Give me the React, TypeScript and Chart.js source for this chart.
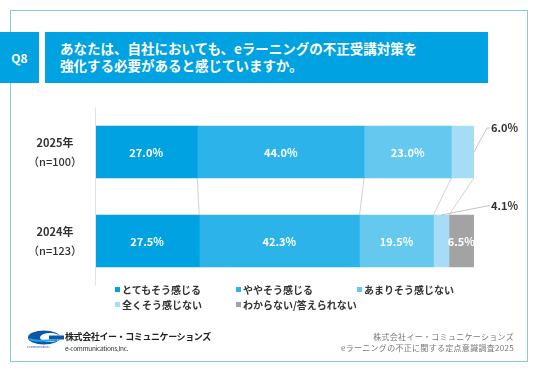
import React, { useEffect, useRef } from "react";
import { Chart, registerables } from "chart.js";

Chart.register(...registerables);

const categories = ["2025年", "2024年"];
const sampleSizes = ["（n=100）", "（n=123）"];
const seriesNames = ["とてもそう感じる", "ややそう感じる", "あまりそう感じない", "全くそう感じない", "わからない/答えられない"];
const veryMuch = [27.0, 27.5];
const somewhat = [44.0, 42.3];
const notMuch = [23.0, 19.5];
const notAtAll = [6.0, 4.1];
const dontKnow = [0, 6.5];
const seriesColors = ["#00a2e2", "#2cb4ea", "#64c8ef", "#a6dcf5", "#a3a3a3"];
// labels drawn outside with leader lines: [series index, category index]
const outsideLabels: [number, number][] = [[3, 0], [3, 1]];

const FONT = "'Noto Sans CJK JP', 'Noto Sans', sans-serif";

const overlayPlugin = {
  id: "overlay",
  afterDatasetsDraw(chart: any) {
    const ctx = chart.ctx;
    const area = chart.chartArea;
    const yScale = chart.scales.y;
    ctx.save();
    // y axis line
    ctx.strokeStyle = "#e2e2e2";
    ctx.lineWidth = 1;
    ctx.beginPath();
    ctx.moveTo(area.left + 0.5, area.top);
    ctx.lineTo(area.left + 0.5, area.bottom);
    ctx.stroke();

    const metas = chart.data.datasets.map((_: any, i: number) => chart.getDatasetMeta(i));
    // connector lines between bars
    ctx.strokeStyle = "#c8c8c8";
    ctx.lineWidth = 0.8;
    for (let s = 0; s < 4; s++) {
      const a = metas[s].data[0];
      const b = metas[s].data[1];
      ctx.beginPath();
      ctx.moveTo(a.x, a.y + a.height / 2);
      ctx.lineTo(b.x, b.y - b.height / 2);
      ctx.stroke();
    }
    // inside labels
    ctx.fillStyle = "#ffffff";
    ctx.font = `bold 11px ${FONT}`;
    ctx.textAlign = "center";
    ctx.textBaseline = "middle";
    chart.data.datasets.forEach((ds: any, s: number) => {
      ds.data.forEach((v: number, c: number) => {
        if (!v) return;
        if (outsideLabels.some(([os, oc]) => os === s && oc === c)) return;
        const el = metas[s].data[c];
        const cx = (el.base + el.x) / 2;
        ctx.fillText(v.toFixed(1) + "%", cx, el.y + 1);
      });
    });
    // outside labels with leader lines
    ctx.strokeStyle = "#b5b5b5";
    ctx.fillStyle = "#333333";
    ctx.textAlign = "left";
    outsideLabels.forEach(([s, c]) => {
      const el = metas[s].data[c];
      const v = chart.data.datasets[s].data[c];
      let sx: number, sy: number, ex: number, ey: number;
      if (c === 0) {
        sx = el.x; sy = el.y; ex = sx + 13; ey = el.y - el.height / 2 + 2;
      } else {
        sx = (el.base + el.x) / 2; sy = el.y - el.height / 2; ex = area.right + 13; ey = sy - 9;
      }
      ctx.beginPath();
      ctx.moveTo(sx, sy);
      ctx.lineTo(ex, ey);
      ctx.lineTo(ex + 3, ey);
      ctx.stroke();
      ctx.fillText(v.toFixed(1) + "%", ex + 4, ey);
    });
    // category labels
    ctx.fillStyle = "#333333";
    ctx.textAlign = "center";
    categories.forEach((cat, i) => {
      const y = yScale.getPixelForValue(i);
      ctx.font = `bold 11px ${FONT}`;
      ctx.fillText(cat, 55, y - 9);
      ctx.font = `500 11px ${FONT}`;
      ctx.fillText(sampleSizes[i], 55, y + 10);
    });
    ctx.restore();
  },
};

export default function App() {
  const ref = useRef<HTMLCanvasElement>(null);
  useEffect(() => {
    if (!ref.current) return;
    const values = [veryMuch, somewhat, notMuch, notAtAll, dontKnow];
    const chart = new Chart(ref.current, {
      type: "bar",
      data: {
        labels: categories,
        datasets: seriesNames.map((name, i) => ({
          label: name,
          data: values[i],
          backgroundColor: seriesColors[i],
          borderWidth: 0,
          barThickness: 52,
        })),
      },
      options: {
        indexAxis: "y",
        animation: false,
        responsive: false,
        maintainAspectRatio: false,
        layout: { padding: { left: 95, right: 62, top: 107.5, bottom: 85.5 } },
        scales: {
          x: { stacked: true, min: 0, max: 100, display: false },
          y: { stacked: true, display: false },
        },
        plugins: { legend: { display: false }, tooltip: { enabled: false } },
      },
      plugins: [overlayPlugin],
    });
    return () => chart.destroy();
  }, []);

  const legendPos = [
    [115, 289], [236, 289], [357, 289],
    [115, 304], [236, 304],
  ];

  return (
    <div style={{ position: "fixed", left: 0, top: 0, width: 536, height: 371, background: "#fff", fontFamily: FONT, overflow: "hidden" }}>
      <div style={{ position: "absolute", left: 10, top: 10, width: 518, height: 352, border: "1px solid #86cde2", boxSizing: "border-box" }} />
      <canvas ref={ref} width={536} height={371} style={{ position: "absolute", left: 0, top: 0 }} />
      <div style={{ position: "absolute", left: 0, top: 32, width: 39, height: 51, background: "#00a2e2", color: "#fff", fontWeight: 700, fontSize: 12, display: "flex", alignItems: "center", justifyContent: "center" }}>Q8</div>
      <div style={{ position: "absolute", left: 45, top: 32, width: 443, height: 51, background: "#00a2e2", color: "#fff", fontWeight: 700, fontSize: 13.5, lineHeight: "17px", padding: "8px 0 0 15px", boxSizing: "border-box", whiteSpace: "nowrap" }}>
        あなたは、自社においても、eラーニングの不正受講対策を<br />強化する必要があると感じていますか。
      </div>
      {seriesNames.map((name, i) => (
        <div key={name} style={{ position: "absolute", left: legendPos[i][0], top: legendPos[i][1] - 8, height: 16, display: "flex", alignItems: "center", fontSize: 10, fontWeight: 700, color: "#333", whiteSpace: "nowrap" }}>
          <span style={{ display: "inline-block", width: 5, height: 5, background: seriesColors[i], marginRight: 2 }} />
          {name}
        </div>
      ))}
      <svg style={{ position: "absolute", left: 27, top: 330 }} width={37} height={18} viewBox="0 0 37 18">
        <ellipse cx={17} cy={7.5} rx={16} ry={7} fill="#0a57a8" />
        <ellipse cx={23} cy={7.5} rx={10} ry={4.5} fill="#ffffff" />
        <rect x={22} y={5.5} width={15} height={4} fill="#0a57a8" />
        <path d="M2 9 Q10 12 30 10" stroke="#1aa3e6" strokeWidth={2} fill="none" />
        <text x={0} y={17.5} fontSize={2.6} fill="#1a4f9e">e-communications</text>
      </svg>
      <div style={{ position: "absolute", left: 65, top: 331, fontSize: 9, lineHeight: "12px", fontWeight: 700, color: "#222", whiteSpace: "nowrap", letterSpacing: -0.4 }}>株式会社イー・コミュニケーションズ</div>
      <div style={{ position: "absolute", left: 65, top: 343, fontSize: 6.5, lineHeight: "10px", color: "#333", whiteSpace: "nowrap", letterSpacing: -0.3 }}>e-communications,Inc.</div>
      <div style={{ position: "absolute", right: 22, top: 330.5, fontSize: 8, color: "#777", textAlign: "right", lineHeight: "11px", whiteSpace: "nowrap", letterSpacing: 0.3 }}>
        株式会社イー・コミュニケーションズ<br />eラーニングの不正に関する定点意識調査2025
      </div>
    </div>
  );
}
